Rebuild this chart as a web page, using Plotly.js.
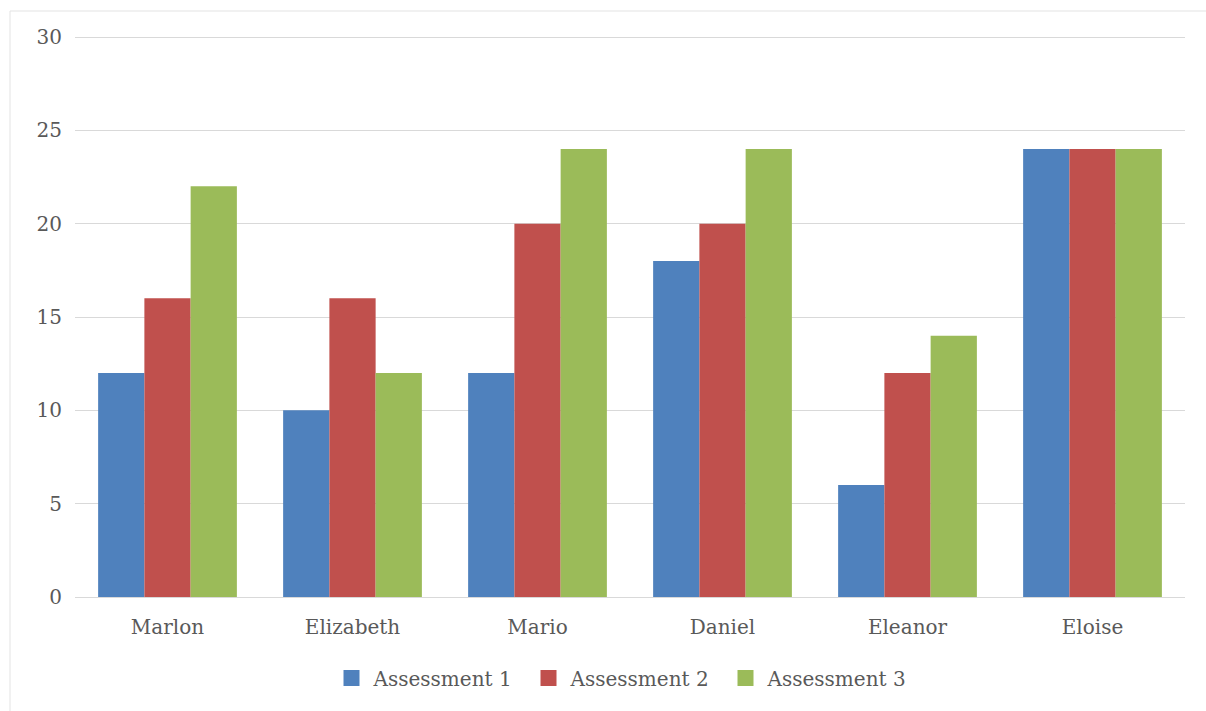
<!DOCTYPE html>
<html>
<head>
<meta charset="utf-8">
<script src="https://cdn.plot.ly/plotly-3.0.1.min.js"></script>
<style>
  html, body { margin: 0; padding: 0; background: #ffffff; }
  #chart { width: 1206px; height: 711px; }
</style>
</head>
<body>
<div id="chart"></div>
<script>
const categories = ["Marlon", "Elizabeth", "Mario", "Daniel", "Eleanor", "Eloise"];
const seriesNames = ["Assessment 1", "Assessment 2", "Assessment 3"];
const assessment1 = [12, 10, 12, 18, 6, 24];
const assessment2 = [16, 16, 20, 20, 12, 24];
const assessment3 = [22, 12, 24, 24, 14, 24];
const yTickValues = [0, 5, 10, 15, 20, 25, 30];

const colors = ["#4f81bd", "#c0504d", "#9bbb59"];
const seriesValues = [assessment1, assessment2, assessment3];
const fontFamily = "DejaVu Serif, Liberation Serif, serif";
const textColor = "#595959";

const barTraces = seriesValues.map((vals, i) => ({
  type: "bar",
  name: seriesNames[i],
  x: categories,
  y: vals,
  marker: { color: colors[i], line: { width: 0 } },
  showlegend: false
}));

// legend-only entries (larger square swatches)
const legendTraces = seriesNames.map((name, i) => ({
  type: "scatter",
  mode: "markers",
  name: name,
  x: [null],
  y: [null],
  marker: { symbol: "square", size: 16, color: colors[i] },
  showlegend: true
}));

// plot area: bottom at 597px, value 30 at 37px -> extend range a bit so the top gridline shows
const marginTop = 33;
const plotHeight = 711 - marginTop - 114;
const yTop = 30 * plotHeight / 560;

const layout = {
  width: 1206,
  height: 711,
  margin: { l: 75, r: 21, t: marginTop, b: 114 },
  paper_bgcolor: "#ffffff",
  plot_bgcolor: "#ffffff",
  barmode: "group",
  bargap: 0.25,
  bargroupgap: 0,
  font: { family: fontFamily, size: 20, color: textColor },
  showlegend: true,
  legend: {
    orientation: "h",
    x: 0.4955, xanchor: "center",
    y: (597 - 678) / plotHeight, yanchor: "middle",
    font: { family: fontFamily, size: 20, color: textColor },
    itemwidth: 34,
    entrywidth: 148,
    entrywidthmode: "pixels",
    traceorder: "normal"
  },
  xaxis: {
    type: "category",
    showgrid: false,
    showline: false,
    zeroline: false,
    ticks: "",
    tickfont: { family: fontFamily, size: 20, color: textColor },
    ticklabelstandoff: 16
  },
  yaxis: {
    range: [0, yTop],
    tickvals: yTickValues,
    showgrid: true,
    gridcolor: "#d9d9d9",
    gridwidth: 1,
    zeroline: true,
    zerolinecolor: "#d9d9d9",
    zerolinewidth: 1,
    showline: false,
    ticks: "",
    tickfont: { family: fontFamily, size: 20, color: textColor },
    ticklabelstandoff: 12
  },
  shapes: [
    { type: "line", xref: "paper", yref: "paper",
      x0: (10 - 75) / 1110, x1: 1.2, y0: (597 - 11) / plotHeight, y1: (597 - 11) / plotHeight,
      line: { color: "#e3e3e3", width: 1 } },
    { type: "line", xref: "paper", yref: "paper",
      x0: (10 - 75) / 1110, x1: (10 - 75) / 1110, y0: (597 - 11) / plotHeight, y1: -0.3,
      line: { color: "#e3e3e3", width: 1 } }
  ]
};

Plotly.newPlot("chart", barTraces.concat(legendTraces), layout, { displayModeBar: false, staticPlot: true });
</script>
</body>
</html>
